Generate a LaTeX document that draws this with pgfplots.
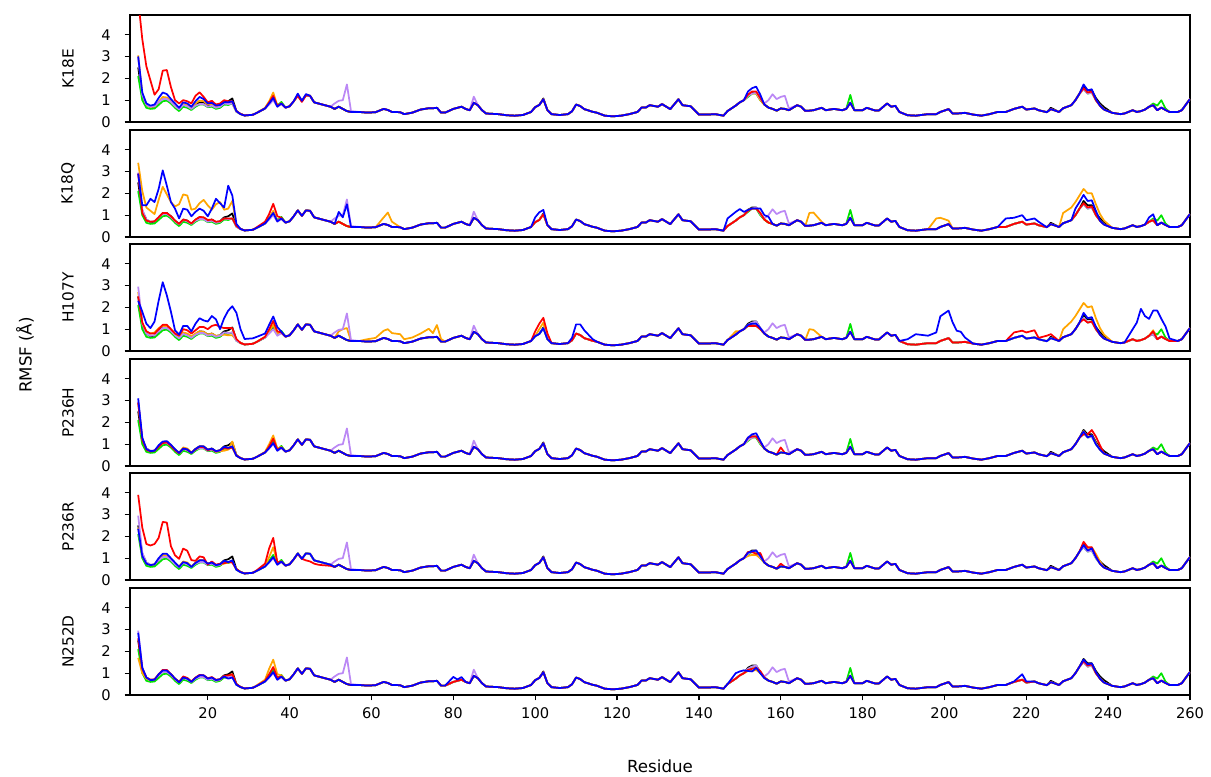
\documentclass[border=0pt]{standalone}
\usepackage{pgfplots}
\usepackage{pgfplotstable}
\pgfplotsset{compat=1.18}
\usepackage{fontspec}
\setmainfont{DejaVu Sans}

\definecolor{cK}{HTML}{000000}
\definecolor{cG}{HTML}{00E400}
\definecolor{cO}{HTML}{FFA500}
\definecolor{cP}{HTML}{BB88F5}
\definecolor{cR}{HTML}{FF0000}
\definecolor{cB}{HTML}{0000FF}

% columns: k g p common to all panels, then o r b for each of the six panels
\pgfplotstableread{
x  k g p  o1 r1 b1  o2 r2 b2  o3 r3 b3  o4 r4 b4  o5 r5 b5  o6 r6 b6
3  2.5 2.1 2.95  3.05 5.6 3.0  3.4 2.9 2.9  2.7 2.5 2.3  2.9 2.9 3.1  2.4 3.9 2.35  1.7 2.6 2.85
4  1.2 1.0 1.25  1.3 3.8 1.35  2.1 1.1 1.45  1.3 1.3 1.8  1.25 1.2 1.3  1.1 2.4 1.1  1.0 1.2 1.25
5  0.8 0.65 0.8  0.8 2.55 0.85  1.35 0.75 1.45  0.9 0.9 1.25  0.8 0.75 0.78  0.75 1.65 0.75  0.75 0.8 0.8
6  0.68 0.6 0.7  0.68 1.9 0.75  1.2 0.7 1.75  0.8 0.8 1.05  0.68 0.66 0.68  0.68 1.58 0.68  0.68 0.7 0.68
7  0.7 0.62 0.72  0.72 1.25 0.8  1.05 0.72 1.6  0.85 0.8 1.35  0.7 0.7 0.7  0.72 1.65 0.72  0.7 0.72 0.7
8  0.9 0.78 0.9  0.92 1.5 1.1  1.7 0.9 2.2  1.05 1.0 2.3  0.9 0.88 0.95  0.95 1.93 1.0  0.92 0.95 0.95
9  1.1 0.95 1.05  1.15 2.35 1.35  2.3 1.1 3.05  1.15 1.2 3.15  1.1 1.05 1.12  1.15 2.66 1.2  1.1 1.15 1.12
10  1.1 0.98 1.05  1.12 2.38 1.28  1.95 1.1 2.35  1.15 1.2 2.55  1.12 1.08 1.14  1.12 2.63 1.2  1.1 1.15 1.12
11  0.95 0.85 0.92  0.95 1.6 1.05  1.6 0.95 1.6  1.0 1.0 1.8  0.95 0.92 0.97  0.95 1.55 1.0  0.92 0.95 0.95
12  0.75 0.65 0.72  0.75 1.0 0.85  1.4 0.75 1.3  0.8 0.8 0.95  0.75 0.72 0.77  0.75 1.13 0.8  0.72 0.75 0.75
13  0.6 0.5 0.58  0.6 0.85 0.65  1.5 0.6 0.85  0.65 0.7 0.75  0.6 0.58 0.6  0.62 0.97 0.6  0.58 0.6 0.58
14  0.8 0.7 0.78  0.85 1.0 0.9  1.95 0.8 1.3  0.85 1.0 1.15  0.85 0.8 0.8  0.85 1.44 0.82  0.82 0.85 0.8
15  0.75 0.65 0.72  0.78 0.95 0.85  1.9 0.75 1.25  0.8 0.95 1.15  0.8 0.75 0.76  0.8 1.34 0.77  0.78 0.78 0.75
16  0.6 0.55 0.6  0.62 0.85 0.7  1.25 0.62 0.95  0.68 0.8 0.9  0.62 0.6 0.6  0.62 0.91 0.6  0.6 0.62 0.6
17  0.78 0.7 0.75  0.85 1.2 0.95  1.3 0.8 1.15  0.8 0.95 1.25  0.78 0.76 0.78  0.8 0.88 0.78  0.78 0.8 0.78
18  0.9 0.8 0.82  0.98 1.36 1.15  1.55 0.92 1.3  0.9 1.1 1.5  0.9 0.88 0.9  0.92 1.08 0.9  0.9 0.92 0.9
19  0.88 0.8 0.82  0.95 1.15 1.05  1.7 0.9 1.2  0.88 1.1 1.4  0.9 0.86 0.9  0.9 1.04 0.9  0.88 0.9 0.9
20  0.75 0.68 0.7  0.8 0.9 0.85  1.45 0.78 0.95  0.75 1.0 1.35  0.75 0.72 0.75  0.75 0.7 0.75  0.75 0.77 0.75
21  0.8 0.7 0.75  0.82 0.97 0.88  1.25 0.8 1.3  0.8 1.15 1.6  0.8 0.78 0.8  0.8 0.85 0.8  0.8 0.82 0.8
22  0.68 0.6 0.65  0.7 0.8 0.75  1.5 0.7 1.75  0.7 1.2 1.45  0.65 0.66 0.68  0.68 0.7 0.68  0.66 0.7 0.68
23  0.72 0.65 0.7  0.72 0.85 0.78  1.6 0.72 1.55  0.72 1.1 1.0  0.68 0.72 0.72  0.7 0.75 0.72  0.7 0.72 0.72
24  0.9 0.8 0.85  0.88 1.0 0.9  1.25 0.85 1.35  0.75 1.05 1.5  0.7 0.82 0.88  0.75 0.77 0.88  0.85 0.88 0.85
25  0.95 0.78 0.82  0.85 0.95 0.9  1.3 0.85 2.35  0.72 1.05 1.85  0.75 0.8 0.83  0.8 0.82 0.82  0.85 0.9 0.75
26  1.08 0.85 0.85  0.9 0.95 0.95  1.65 0.85 1.9  0.72 1.05 2.05  1.12 0.85 0.9  0.85 0.8 0.9  0.95 0.95 0.8
27  0.5 0.47 0.47  0.5 0.5 0.5  0.55 0.5 0.6  0.5 0.55 1.75  0.5 0.48 0.47  0.5 0.5 0.47  0.5 0.5 0.47
28  0.37 0.36 0.36  0.37 0.37 0.36  0.37 0.37 0.37  0.37 0.37 1.0  0.37 0.36 0.36  0.37 0.37 0.36  0.37 0.37 0.36
29  0.3 0.3 0.3  0.3 0.3 0.3  0.3 0.3 0.3  0.3 0.3 0.55  0.3 0.3 0.3  0.3 0.3 0.3  0.3 0.3 0.3
31  0.33 0.33 0.33  0.33 0.33 0.33  0.33 0.33 0.33  0.33 0.33 0.58  0.33 0.33 0.33  0.33 0.33 0.33  0.33 0.33 0.33
32  0.42 0.42 0.42  0.42 0.42 0.42  0.42 0.45 0.42  0.42 0.42 0.65  0.42 0.42 0.42  0.42 0.45 0.42  0.45 0.42 0.42
34  0.62 0.62 0.62  0.65 0.62 0.62  0.62 0.7 0.62  0.65 0.65 0.8  0.65 0.62 0.62  0.65 0.75 0.62  0.7 0.65 0.62
35  0.85 0.88 0.8  0.95 0.9 0.85  0.85 1.05 0.85  0.9 1.0 1.2  1.0 0.9 0.82  1.05 1.45 0.82  1.2 0.95 0.82
36  1.1 1.15 1.0  1.35 1.2 1.1  1.2 1.52 1.1  1.2 1.38 1.58  1.4 1.25 1.05  1.5 1.93 1.05  1.62 1.28 1.05
37  0.75 0.75 0.7  0.75 0.75 0.7  0.75 0.95 0.72  0.8 0.9 1.1  0.8 0.75 0.7  0.8 0.8 0.7  0.95 0.8 0.7
38  0.85 0.92 0.82  0.85 0.85 0.85  0.85 0.88 0.85  0.85 0.85 0.88  0.87 0.85 0.85  0.85 0.85 0.85  0.9 0.85 0.85
39  0.66 0.66 0.66  0.66 0.66 0.66  0.66 0.66 0.66  0.66 0.66 0.66  0.66 0.66 0.66  0.66 0.66 0.66  0.66 0.66 0.66
40  0.72 0.72 0.72  0.72 0.72 0.72  0.72 0.72 0.72  0.72 0.72 0.72  0.72 0.72 0.72  0.72 0.72 0.72  0.72 0.72 0.72
41  0.95 0.95 0.95  0.95 0.95 0.95  0.95 0.95 0.95  0.95 0.95 0.95  0.95 0.95 0.95  0.95 0.95 0.95  0.95 0.95 0.95
42  1.22 1.22 1.22  1.2 1.2 1.3  1.22 1.22 1.22  1.22 1.22 1.22  1.22 1.22 1.22  1.22 1.2 1.22  1.22 1.22 1.22
43  0.97 0.97 0.97  0.97 0.92 0.97  0.97 0.97 0.97  0.97 0.97 0.97  0.97 0.97 0.97  0.97 0.97 0.97  0.97 0.97 0.97
44  1.22 1.22 1.22  1.22 1.22 1.28  1.22 1.22 1.22  1.22 1.22 1.22  1.22 1.22 1.22  1.22 0.9 1.22  1.22 1.22 1.22
45  1.2 1.2 1.2  1.2 1.2 1.2  1.2 1.2 1.2  1.2 1.2 1.2  1.2 1.2 1.2  1.2 0.85 1.2  1.2 1.2 1.2
46  0.9 0.9 0.9  0.9 0.9 0.9  0.9 0.9 0.9  0.9 0.9 0.9  0.9 0.9 0.9  0.9 0.75 0.9  0.9 0.9 0.9
47  0.85 0.85 0.85  0.85 0.85 0.85  0.85 0.85 0.85  0.85 0.85 0.85  0.85 0.85 0.85  0.85 0.7 0.85  0.85 0.85 0.85
48  0.8 0.8 0.8  0.8 0.8 0.8  0.8 0.8 0.8  0.8 0.8 0.8  0.8 0.8 0.8  0.8 0.68 0.8  0.8 0.8 0.8
50  0.7 0.7 0.7  0.7 0.7 0.7  0.7 0.7 0.7  0.7 0.7 0.7  0.7 0.7 0.7  0.7 0.65 0.7  0.7 0.7 0.7
51  0.6 0.6 0.85  0.6 0.6 0.6  0.6 0.6 0.6  0.6 0.6 0.6  0.6 0.6 0.6  0.6 0.6 0.6  0.6 0.6 0.6
52  0.7 0.7 0.97  0.7 0.7 0.7  0.7 0.7 1.15  0.9 0.7 0.7  0.7 0.7 0.7  0.7 0.7 0.7  0.7 0.7 0.7
53  0.6 0.6 1.0  0.6 0.6 0.6  0.6 0.6 0.9  1.0 0.6 0.6  0.6 0.6 0.6  0.6 0.6 0.6  0.6 0.6 0.6
54  0.5 0.5 1.72  0.5 0.5 0.5  0.5 0.5 1.5  1.05 0.5 0.5  0.5 0.5 0.5  0.5 0.5 0.5  0.5 0.5 0.5
55  0.46 0.46 0.5  0.46 0.46 0.46  0.46 0.46 0.46  0.46 0.46 0.46  0.46 0.46 0.46  0.46 0.46 0.46  0.46 0.46 0.46
57  0.46 0.46 0.46  0.46 0.46 0.46  0.46 0.46 0.46  0.46 0.46 0.46  0.46 0.46 0.46  0.46 0.46 0.46  0.46 0.46 0.46
59  0.43 0.43 0.43  0.43 0.43 0.43  0.43 0.43 0.43  0.54 0.43 0.43  0.43 0.43 0.43  0.43 0.43 0.43  0.43 0.43 0.43
61  0.45 0.45 0.45  0.45 0.45 0.45  0.45 0.45 0.45  0.6 0.45 0.45  0.45 0.45 0.45  0.45 0.45 0.45  0.45 0.45 0.45
63  0.6 0.6 0.6  0.6 0.6 0.6  0.9 0.6 0.6  0.93 0.6 0.6  0.6 0.6 0.6  0.6 0.6 0.6  0.6 0.6 0.6
64  0.55 0.55 0.55  0.55 0.55 0.55  1.12 0.55 0.55  1.0 0.55 0.55  0.55 0.55 0.55  0.55 0.55 0.55  0.55 0.55 0.55
65  0.46 0.46 0.46  0.46 0.46 0.46  0.7 0.46 0.46  0.82 0.46 0.46  0.46 0.46 0.46  0.46 0.46 0.46  0.46 0.46 0.46
67  0.45 0.45 0.45  0.45 0.45 0.45  0.45 0.45 0.45  0.77 0.45 0.45  0.45 0.45 0.45  0.45 0.45 0.45  0.45 0.45 0.45
68  0.36 0.36 0.36  0.36 0.36 0.36  0.36 0.36 0.36  0.54 0.36 0.36  0.36 0.36 0.36  0.36 0.36 0.36  0.36 0.36 0.36
70  0.43 0.43 0.43  0.43 0.43 0.43  0.43 0.43 0.43  0.62 0.43 0.43  0.43 0.43 0.43  0.43 0.43 0.43  0.43 0.43 0.43
72  0.57 0.57 0.57  0.57 0.57 0.57  0.57 0.57 0.57  0.8 0.57 0.57  0.57 0.57 0.57  0.57 0.57 0.57  0.57 0.57 0.57
74  0.63 0.63 0.63  0.63 0.63 0.63  0.63 0.63 0.63  1.02 0.63 0.63  0.63 0.63 0.63  0.63 0.63 0.63  0.63 0.63 0.63
75  0.63 0.63 0.63  0.63 0.63 0.63  0.63 0.63 0.63  0.82 0.63 0.63  0.63 0.63 0.63  0.63 0.63 0.63  0.63 0.63 0.63
76  0.65 0.65 0.65  0.65 0.65 0.65  0.65 0.65 0.65  1.19 0.65 0.65  0.65 0.65 0.65  0.65 0.65 0.65  0.65 0.65 0.65
77  0.43 0.43 0.43  0.43 0.43 0.43  0.43 0.43 0.43  0.55 0.43 0.43  0.43 0.43 0.43  0.43 0.43 0.43  0.43 0.43 0.43
78  0.43 0.43 0.43  0.43 0.43 0.43  0.43 0.43 0.43  0.43 0.43 0.43  0.43 0.43 0.43  0.43 0.43 0.43  0.43 0.43 0.43
80  0.6 0.6 0.6  0.6 0.6 0.6  0.6 0.6 0.6  0.6 0.6 0.6  0.6 0.6 0.6  0.6 0.6 0.6  0.6 0.6 0.83
81  0.65 0.65 0.65  0.65 0.65 0.65  0.65 0.65 0.65  0.65 0.65 0.65  0.65 0.65 0.65  0.65 0.65 0.65  0.65 0.65 0.71
82  0.7 0.7 0.7  0.7 0.7 0.7  0.7 0.7 0.7  0.7 0.7 0.7  0.7 0.7 0.7  0.7 0.7 0.7  0.7 0.7 0.82
83  0.6 0.6 0.6  0.6 0.6 0.6  0.6 0.6 0.6  0.6 0.6 0.6  0.6 0.6 0.6  0.6 0.6 0.6  0.6 0.6 0.6
84  0.54 0.54 0.54  0.54 0.54 0.54  0.54 0.54 0.54  0.54 0.54 0.54  0.54 0.54 0.54  0.54 0.54 0.54  0.54 0.54 0.54
85  0.88 0.88 1.16  0.88 0.88 0.88  0.88 0.88 0.88  0.88 0.88 0.88  0.88 0.88 0.88  0.88 0.88 0.88  0.88 0.88 0.88
86  0.77 0.77 0.77  0.77 0.77 0.77  0.77 0.77 0.77  0.77 0.77 0.77  0.77 0.77 0.77  0.77 0.77 0.77  0.77 0.77 0.77
87  0.54 0.54 0.54  0.54 0.54 0.54  0.54 0.54 0.54  0.54 0.54 0.54  0.54 0.54 0.54  0.54 0.54 0.54  0.54 0.54 0.54
88  0.39 0.39 0.39  0.39 0.39 0.39  0.39 0.39 0.39  0.39 0.39 0.39  0.39 0.39 0.39  0.39 0.39 0.39  0.39 0.39 0.39
91  0.36 0.36 0.36  0.36 0.36 0.36  0.36 0.36 0.36  0.36 0.36 0.36  0.36 0.36 0.36  0.36 0.36 0.36  0.36 0.36 0.36
93  0.31 0.31 0.31  0.31 0.31 0.31  0.31 0.31 0.31  0.31 0.31 0.31  0.31 0.31 0.31  0.31 0.31 0.31  0.31 0.31 0.31
95  0.29 0.29 0.29  0.29 0.29 0.29  0.29 0.29 0.29  0.29 0.29 0.29  0.29 0.29 0.29  0.29 0.29 0.29  0.29 0.29 0.29
97  0.32 0.32 0.32  0.32 0.32 0.32  0.32 0.32 0.32  0.32 0.32 0.32  0.32 0.32 0.32  0.32 0.32 0.32  0.32 0.32 0.32
99  0.46 0.46 0.46  0.46 0.46 0.46  0.46 0.46 0.46  0.46 0.46 0.46  0.46 0.46 0.46  0.46 0.46 0.46  0.46 0.46 0.46
100  0.68 0.68 0.68  0.68 0.68 0.68  0.68 0.68 0.9  0.68 0.9 0.68  0.68 0.68 0.68  0.68 0.68 0.68  0.68 0.68 0.68
101  0.78 0.78 0.78  0.78 0.78 0.78  0.78 0.78 1.13  1.0 1.25 0.78  0.78 0.78 0.78  0.78 0.78 0.78  0.78 0.78 0.78
102  1.08 1.04 1.04  1.04 1.04 1.04  1.04 1.04 1.24  1.3 1.52 1.04  1.04 1.04 1.04  1.04 1.04 1.04  1.04 1.04 1.04
103  0.54 0.54 0.54  0.54 0.54 0.54  0.54 0.54 0.54  0.54 0.8 0.54  0.54 0.54 0.54  0.54 0.54 0.54  0.54 0.54 0.54
104  0.36 0.36 0.36  0.36 0.36 0.36  0.36 0.36 0.36  0.36 0.36 0.36  0.36 0.36 0.36  0.36 0.36 0.36  0.36 0.36 0.36
106  0.32 0.32 0.32  0.32 0.32 0.32  0.32 0.32 0.32  0.32 0.32 0.32  0.32 0.32 0.32  0.32 0.32 0.32  0.32 0.32 0.32
108  0.36 0.36 0.36  0.36 0.36 0.36  0.36 0.36 0.36  0.36 0.36 0.36  0.36 0.36 0.36  0.36 0.36 0.36  0.36 0.36 0.36
109  0.49 0.49 0.49  0.49 0.49 0.49  0.49 0.49 0.49  0.49 0.49 0.6  0.49 0.49 0.49  0.49 0.49 0.49  0.49 0.49 0.49
110  0.8 0.8 0.8  0.8 0.8 0.8  0.8 0.8 0.8  0.8 0.8 1.22  0.8 0.8 0.8  0.8 0.8 0.8  0.8 0.8 0.8
111  0.73 0.73 0.73  0.73 0.73 0.73  0.73 0.73 0.73  0.73 0.73 1.22  0.73 0.73 0.73  0.73 0.73 0.73  0.73 0.73 0.73
112  0.59 0.59 0.59  0.59 0.59 0.59  0.59 0.59 0.59  0.59 0.59 0.95  0.59 0.59 0.59  0.59 0.59 0.59  0.59 0.59 0.59
114  0.47 0.47 0.47  0.47 0.47 0.47  0.47 0.47 0.47  0.47 0.47 0.55  0.47 0.47 0.47  0.47 0.47 0.47  0.47 0.47 0.47
115  0.43 0.43 0.43  0.43 0.43 0.43  0.43 0.43 0.43  0.43 0.43 0.43  0.43 0.43 0.43  0.43 0.43 0.43  0.43 0.43 0.43
117  0.29 0.29 0.29  0.29 0.29 0.29  0.29 0.29 0.29  0.29 0.29 0.29  0.29 0.29 0.29  0.29 0.29 0.29  0.29 0.29 0.29
119  0.26 0.26 0.26  0.26 0.26 0.26  0.26 0.26 0.26  0.26 0.26 0.26  0.26 0.26 0.26  0.26 0.26 0.26  0.26 0.26 0.26
121  0.29 0.29 0.29  0.29 0.29 0.29  0.29 0.29 0.29  0.29 0.29 0.29  0.29 0.29 0.29  0.29 0.29 0.29  0.29 0.29 0.29
123  0.36 0.36 0.36  0.36 0.36 0.36  0.36 0.36 0.36  0.36 0.36 0.36  0.36 0.36 0.36  0.36 0.36 0.36  0.36 0.36 0.36
125  0.46 0.46 0.46  0.46 0.46 0.46  0.46 0.46 0.46  0.46 0.46 0.46  0.46 0.46 0.46  0.46 0.46 0.46  0.46 0.46 0.46
126  0.66 0.66 0.66  0.66 0.66 0.66  0.66 0.66 0.66  0.66 0.66 0.66  0.66 0.66 0.66  0.66 0.66 0.66  0.66 0.66 0.66
127  0.66 0.66 0.66  0.66 0.66 0.66  0.66 0.66 0.66  0.66 0.66 0.66  0.66 0.66 0.66  0.66 0.66 0.66  0.66 0.66 0.66
128  0.77 0.77 0.77  0.77 0.77 0.77  0.77 0.77 0.77  0.77 0.77 0.77  0.77 0.77 0.77  0.77 0.77 0.77  0.77 0.77 0.77
130  0.7 0.7 0.7  0.7 0.7 0.7  0.7 0.7 0.7  0.7 0.7 0.7  0.7 0.7 0.7  0.7 0.7 0.7  0.7 0.7 0.7
131  0.82 0.82 0.82  0.82 0.82 0.82  0.82 0.82 0.82  0.82 0.82 0.82  0.82 0.82 0.82  0.82 0.82 0.82  0.82 0.82 0.82
133  0.59 0.59 0.59  0.59 0.59 0.59  0.59 0.59 0.59  0.59 0.59 0.59  0.59 0.59 0.59  0.59 0.59 0.59  0.59 0.59 0.59
135  1.04 1.04 1.04  1.04 1.04 1.04  1.04 1.04 1.04  1.04 1.04 1.04  1.04 1.04 1.04  1.04 1.04 1.04  1.04 1.04 1.04
136  0.77 0.77 0.77  0.77 0.77 0.77  0.77 0.77 0.77  0.77 0.77 0.77  0.77 0.77 0.77  0.77 0.77 0.77  0.77 0.77 0.77
138  0.72 0.72 0.72  0.72 0.72 0.72  0.72 0.72 0.72  0.72 0.72 0.72  0.72 0.72 0.72  0.72 0.72 0.72  0.72 0.72 0.72
140  0.34 0.34 0.34  0.34 0.34 0.34  0.34 0.34 0.34  0.34 0.34 0.34  0.34 0.34 0.34  0.34 0.34 0.34  0.34 0.34 0.34
142  0.34 0.34 0.34  0.34 0.34 0.34  0.34 0.34 0.34  0.34 0.34 0.34  0.34 0.34 0.34  0.34 0.34 0.34  0.34 0.34 0.34
144  0.36 0.36 0.36  0.36 0.36 0.36  0.36 0.36 0.36  0.36 0.36 0.36  0.36 0.36 0.36  0.36 0.36 0.36  0.36 0.36 0.36
146  0.29 0.29 0.29  0.29 0.29 0.29  0.29 0.29 0.29  0.29 0.29 0.29  0.29 0.29 0.29  0.29 0.29 0.29  0.29 0.29 0.29
147  0.5 0.5 0.5  0.5 0.5 0.5  0.5 0.5 0.85  0.5 0.5 0.5  0.5 0.5 0.5  0.5 0.5 0.5  0.5 0.5 0.5
149  0.75 0.75 0.75  0.75 0.75 0.75  0.75 0.75 1.15  0.9 0.75 0.75  0.75 0.75 0.75  0.75 0.75 0.75  0.75 0.75 1.0
150  0.9 0.9 0.9  0.9 0.9 0.9  0.9 0.9 1.28  0.9 0.9 0.9  0.9 0.9 0.9  0.9 0.9 0.9  0.9 0.9 1.08
151  1.0 1.0 1.0  1.0 1.0 1.0  1.0 1.0 1.15  1.0 1.0 1.0  1.0 1.0 1.0  1.0 1.0 1.0  1.0 1.0 1.13
152  1.25 1.15 1.2  1.25 1.25 1.4  1.25 1.2 1.24  1.2 1.15 1.2  1.2 1.3 1.3  1.1 1.28 1.25  1.1 1.15 1.1
153  1.35 1.3 1.3  1.3 1.4 1.55  1.3 1.3 1.31  1.2 1.15 1.25  1.3 1.35 1.45  1.15 1.28 1.31  1.1 1.2 1.08
154  1.35 1.3 1.35  1.3 1.4 1.62  1.3 1.3 1.31  1.15 1.15 1.25  1.35 1.35 1.5  1.15 1.2 1.35  1.15 1.25 1.24
155  1.05 1.0 1.05  1.0 1.1 1.25  1.1 1.1 1.31  1.0 1.0 1.05  1.05 1.1 1.15  1.0 1.24 1.1  1.0 1.1 1.0
156  0.8 0.8 0.85  0.8 0.8 0.8  0.8 0.8 1.0  0.8 0.8 0.8  0.8 0.8 0.8  0.8 0.8 0.8  0.8 0.8 0.77
157  0.66 0.66 1.0  0.66 0.66 0.66  0.66 0.66 0.93  0.66 0.66 0.66  0.66 0.66 0.66  0.66 0.66 0.66  0.66 0.66 0.66
158  0.6 0.6 1.27  0.6 0.6 0.6  0.6 0.6 0.6  0.6 0.6 0.6  0.6 0.6 0.6  0.6 0.6 0.6  0.6 0.6 0.6
159  0.52 0.52 1.05  0.52 0.52 0.52  0.52 0.52 0.52  0.52 0.52 0.52  0.52 0.52 0.52  0.52 0.52 0.52  0.52 0.52 0.52
160  0.62 0.62 1.15  0.62 0.62 0.62  0.62 0.62 0.62  0.62 0.62 0.62  0.62 0.85 0.62  0.62 0.75 0.62  0.62 0.62 0.62
161  0.6 0.6 1.2  0.6 0.6 0.6  0.6 0.6 0.6  0.6 0.6 0.6  0.6 0.6 0.6  0.6 0.6 0.6  0.6 0.6 0.6
162  0.54 0.54 0.62  0.54 0.54 0.54  0.54 0.54 0.54  0.54 0.54 0.54  0.54 0.54 0.54  0.54 0.54 0.54  0.54 0.54 0.54
164  0.77 0.77 0.77  0.77 0.77 0.77  0.77 0.77 0.77  0.77 0.77 0.77  0.77 0.77 0.77  0.77 0.77 0.77  0.77 0.77 0.77
165  0.7 0.7 0.7  0.7 0.7 0.7  0.7 0.7 0.7  0.7 0.7 0.7  0.7 0.7 0.7  0.7 0.7 0.7  0.7 0.7 0.7
166  0.51 0.51 0.51  0.51 0.51 0.51  0.51 0.51 0.51  0.51 0.51 0.51  0.51 0.51 0.51  0.51 0.51 0.51  0.51 0.51 0.51
167  0.52 0.52 0.52  0.52 0.52 0.52  1.1 0.52 0.52  1.0 0.52 0.52  0.52 0.52 0.52  0.52 0.52 0.52  0.52 0.52 0.52
168  0.54 0.54 0.54  0.54 0.54 0.54  1.12 0.54 0.54  0.97 0.54 0.54  0.54 0.54 0.54  0.54 0.54 0.54  0.54 0.54 0.54
170  0.65 0.65 0.65  0.65 0.65 0.65  0.7 0.65 0.65  0.65 0.65 0.65  0.65 0.65 0.65  0.65 0.65 0.65  0.65 0.65 0.65
171  0.54 0.54 0.54  0.54 0.54 0.54  0.54 0.54 0.54  0.54 0.54 0.54  0.54 0.54 0.54  0.54 0.54 0.54  0.54 0.54 0.54
173  0.6 0.6 0.6  0.6 0.6 0.6  0.6 0.6 0.6  0.6 0.6 0.6  0.6 0.6 0.6  0.6 0.6 0.6  0.6 0.6 0.6
175  0.54 0.54 0.54  0.54 0.54 0.54  0.54 0.54 0.54  0.54 0.54 0.54  0.54 0.54 0.54  0.54 0.54 0.54  0.54 0.54 0.54
176  0.6 0.6 0.6  0.6 0.6 0.6  0.6 0.6 0.6  0.6 0.6 0.6  0.6 0.6 0.6  0.6 0.6 0.6  0.6 0.6 0.6
177  0.88 1.24 0.88  0.88 0.88 0.88  0.88 0.88 0.88  0.88 0.88 0.88  0.88 0.88 0.88  0.88 0.88 0.88  0.88 0.88 0.88
178  0.54 0.54 0.54  0.54 0.54 0.54  0.54 0.54 0.54  0.54 0.54 0.54  0.54 0.54 0.54  0.54 0.54 0.54  0.54 0.54 0.54
180  0.54 0.54 0.54  0.54 0.54 0.54  0.54 0.54 0.54  0.54 0.54 0.54  0.54 0.54 0.54  0.54 0.54 0.54  0.54 0.54 0.54
181  0.65 0.65 0.65  0.65 0.65 0.65  0.65 0.65 0.65  0.65 0.65 0.65  0.65 0.65 0.65  0.65 0.65 0.65  0.65 0.65 0.65
183  0.53 0.53 0.53  0.53 0.53 0.53  0.53 0.53 0.53  0.53 0.53 0.53  0.53 0.53 0.53  0.53 0.53 0.53  0.53 0.53 0.53
184  0.53 0.53 0.53  0.53 0.53 0.53  0.53 0.53 0.53  0.53 0.53 0.53  0.53 0.53 0.53  0.53 0.53 0.53  0.53 0.53 0.53
186  0.85 0.85 0.85  0.85 0.85 0.85  0.85 0.85 0.85  0.85 0.85 0.85  0.85 0.85 0.85  0.85 0.85 0.85  0.85 0.85 0.85
187  0.7 0.7 0.7  0.7 0.7 0.7  0.7 0.7 0.7  0.7 0.7 0.7  0.7 0.7 0.7  0.7 0.7 0.7  0.7 0.7 0.7
188  0.74 0.74 0.74  0.74 0.74 0.74  0.74 0.74 0.74  0.74 0.74 0.74  0.74 0.74 0.74  0.74 0.74 0.74  0.74 0.74 0.74
189  0.46 0.46 0.46  0.46 0.46 0.46  0.46 0.46 0.46  0.46 0.46 0.46  0.46 0.46 0.46  0.46 0.46 0.46  0.46 0.46 0.46
191  0.31 0.31 0.31  0.31 0.31 0.31  0.31 0.31 0.31  0.31 0.31 0.54  0.31 0.31 0.31  0.31 0.31 0.31  0.31 0.31 0.31
193  0.29 0.29 0.29  0.29 0.29 0.29  0.29 0.29 0.29  0.29 0.29 0.77  0.29 0.29 0.29  0.29 0.29 0.29  0.29 0.29 0.29
196  0.36 0.36 0.36  0.36 0.36 0.36  0.36 0.36 0.36  0.36 0.36 0.7  0.36 0.36 0.36  0.36 0.36 0.36  0.36 0.36 0.36
198  0.36 0.36 0.36  0.36 0.36 0.36  0.85 0.36 0.36  0.36 0.36 0.85  0.36 0.36 0.36  0.36 0.36 0.36  0.36 0.36 0.36
199  0.46 0.46 0.46  0.46 0.46 0.46  0.88 0.46 0.46  0.46 0.46 1.59  0.46 0.46 0.46  0.46 0.46 0.46  0.46 0.46 0.46
201  0.59 0.59 0.59  0.59 0.59 0.59  0.75 0.59 0.59  0.59 0.59 1.85  0.59 0.59 0.59  0.59 0.59 0.59  0.59 0.59 0.59
202  0.39 0.39 0.39  0.39 0.39 0.39  0.39 0.39 0.39  0.39 0.39 1.31  0.39 0.39 0.39  0.39 0.39 0.39  0.39 0.39 0.39
203  0.39 0.39 0.39  0.39 0.39 0.39  0.39 0.39 0.39  0.39 0.39 0.93  0.39 0.39 0.39  0.39 0.39 0.39  0.39 0.39 0.39
204  0.4 0.4 0.4  0.4 0.4 0.4  0.4 0.4 0.4  0.4 0.4 0.88  0.4 0.4 0.4  0.4 0.4 0.4  0.4 0.4 0.4
205  0.42 0.42 0.42  0.42 0.42 0.42  0.42 0.42 0.42  0.42 0.42 0.62  0.42 0.42 0.42  0.42 0.42 0.42  0.42 0.42 0.42
207  0.34 0.34 0.34  0.34 0.34 0.34  0.34 0.34 0.34  0.34 0.34 0.34  0.34 0.34 0.34  0.34 0.34 0.34  0.34 0.34 0.34
209  0.29 0.29 0.29  0.29 0.29 0.29  0.29 0.29 0.29  0.29 0.29 0.29  0.29 0.29 0.29  0.29 0.29 0.29  0.29 0.29 0.29
211  0.36 0.36 0.36  0.36 0.36 0.36  0.36 0.36 0.36  0.36 0.36 0.36  0.36 0.36 0.36  0.36 0.36 0.36  0.36 0.36 0.36
213  0.46 0.46 0.46  0.46 0.46 0.46  0.46 0.46 0.46  0.46 0.46 0.46  0.46 0.46 0.46  0.46 0.46 0.46  0.46 0.46 0.46
215  0.46 0.46 0.46  0.46 0.46 0.46  0.46 0.46 0.85  0.46 0.46 0.46  0.46 0.46 0.46  0.46 0.46 0.46  0.46 0.46 0.46
217  0.6 0.6 0.6  0.6 0.6 0.6  0.6 0.6 0.88  0.6 0.85 0.6  0.6 0.6 0.6  0.6 0.6 0.6  0.6 0.6 0.62
219  0.7 0.7 0.7  0.7 0.7 0.7  0.7 0.7 1.0  0.7 0.93 0.7  0.7 0.7 0.7  0.7 0.7 0.7  0.7 0.7 0.95
220  0.57 0.57 0.57  0.57 0.57 0.57  0.57 0.57 0.77  0.57 0.85 0.57  0.57 0.57 0.57  0.57 0.57 0.57  0.57 0.57 0.62
222  0.62 0.62 0.62  0.62 0.62 0.62  0.62 0.62 0.85  0.62 0.95 0.62  0.62 0.62 0.62  0.62 0.62 0.62  0.62 0.62 0.62
223  0.54 0.54 0.54  0.54 0.54 0.54  0.54 0.54 0.7  0.54 0.6 0.54  0.54 0.54 0.54  0.54 0.54 0.54  0.54 0.54 0.54
225  0.45 0.45 0.45  0.45 0.45 0.45  0.45 0.45 0.45  0.45 0.7 0.45  0.45 0.45 0.45  0.45 0.45 0.45  0.45 0.45 0.45
226  0.65 0.59 0.59  0.59 0.59 0.59  0.59 0.59 0.59  0.59 0.77 0.59  0.59 0.59 0.59  0.59 0.59 0.59  0.59 0.59 0.59
228  0.46 0.46 0.46  0.46 0.46 0.46  0.46 0.46 0.46  0.46 0.46 0.46  0.46 0.46 0.46  0.46 0.46 0.46  0.46 0.46 0.46
229  0.63 0.63 0.63  0.63 0.63 0.63  1.1 0.63 0.63  1.0 0.63 0.63  0.63 0.63 0.63  0.63 0.63 0.63  0.63 0.63 0.63
231  0.77 0.77 0.77  0.77 0.77 0.77  1.35 0.77 0.77  1.35 0.77 0.77  0.77 0.77 0.77  0.77 0.77 0.77  0.77 0.77 0.77
232  1.0 1.0 1.0  1.0 1.0 1.0  1.6 1.0 1.3  1.6 1.0 1.0  1.0 1.0 1.0  1.0 1.0 1.0  1.0 1.0 1.0
233  1.3 1.3 1.3  1.3 1.3 1.3  1.9 1.3 1.6  1.9 1.3 1.3  1.3 1.3 1.3  1.3 1.3 1.3  1.3 1.3 1.3
234  1.65 1.5 1.5  1.5 1.55 1.72  2.2 1.55 1.93  2.2 1.45 1.75  1.6 1.45 1.58  1.6 1.75 1.6  1.5 1.55 1.62
235  1.45 1.3 1.3  1.35 1.35 1.45  2.0 1.35 1.65  2.0 1.3 1.5  1.35 1.45 1.31  1.4 1.5 1.35  1.3 1.35 1.4
236  1.45 1.35 1.35  1.4 1.4 1.5  2.0 1.4 1.68  2.05 1.35 1.55  1.4 1.65 1.4  1.5 1.5 1.45  1.4 1.4 1.45
237  1.1 1.0 1.0  1.0 1.0 1.05  1.5 1.0 1.2  1.5 1.0 1.1  1.05 1.35 1.0  1.2 1.1 1.05  1.0 1.0 1.05
238  0.85 0.75 0.75  0.75 0.75 0.75  1.05 0.75 0.75  1.05 0.75 0.75  0.75 0.95 0.75  0.85 0.75 0.75  0.75 0.75 0.75
239  0.68 0.57 0.57  0.57 0.57 0.57  0.75 0.57 0.57  0.75 0.57 0.57  0.57 0.57 0.57  0.57 0.57 0.57  0.57 0.57 0.57
241  0.42 0.42 0.42  0.42 0.42 0.42  0.42 0.42 0.42  0.42 0.42 0.42  0.42 0.42 0.42  0.42 0.42 0.42  0.42 0.42 0.42
243  0.36 0.36 0.36  0.36 0.36 0.36  0.36 0.36 0.36  0.36 0.36 0.36  0.36 0.36 0.36  0.36 0.36 0.36  0.36 0.36 0.36
244  0.39 0.39 0.39  0.39 0.39 0.39  0.39 0.39 0.39  0.39 0.39 0.39  0.39 0.39 0.39  0.39 0.39 0.39  0.39 0.39 0.39
246  0.54 0.54 0.54  0.54 0.54 0.54  0.54 0.54 0.54  0.54 0.54 1.0  0.54 0.54 0.54  0.54 0.54 0.54  0.54 0.54 0.54
247  0.46 0.46 0.46  0.46 0.46 0.46  0.46 0.46 0.46  0.46 0.46 1.3  0.46 0.46 0.46  0.46 0.46 0.46  0.46 0.46 0.46
248  0.5 0.5 0.5  0.5 0.5 0.5  0.5 0.5 0.5  0.5 0.5 1.93  0.5 0.5 0.5  0.5 0.5 0.5  0.5 0.5 0.5
249  0.57 0.57 0.57  0.57 0.57 0.57  0.57 0.57 0.57  0.57 0.57 1.6  0.57 0.57 0.57  0.57 0.57 0.57  0.57 0.57 0.57
250  0.7 0.7 0.7  0.7 0.7 0.7  0.7 0.7 0.9  0.7 0.7 1.47  0.7 0.7 0.7  0.7 0.7 0.7  0.7 0.7 0.7
251  0.77 0.85 0.77  0.77 0.77 0.77  0.77 0.77 1.04  0.95 0.9 1.85  0.77 0.77 0.77  0.77 0.77 0.77  0.77 0.77 0.77
252  0.54 0.75 0.54  0.54 0.54 0.54  0.54 0.54 0.54  0.54 0.54 1.85  0.54 0.54 0.54  0.54 0.54 0.54  0.54 0.54 0.54
253  0.66 1.0 0.66  0.66 0.66 0.66  0.66 0.66 0.66  0.66 0.66 1.47  0.66 0.66 0.66  0.66 0.66 0.66  0.66 0.66 0.66
254  0.55 0.62 0.55  0.55 0.55 0.55  0.55 0.55 0.55  0.55 0.55 1.13  0.55 0.55 0.55  0.55 0.55 0.55  0.55 0.55 0.55
255  0.46 0.46 0.46  0.46 0.46 0.46  0.46 0.46 0.46  0.46 0.46 0.57  0.46 0.46 0.46  0.46 0.46 0.46  0.46 0.46 0.46
257  0.46 0.46 0.46  0.46 0.46 0.46  0.46 0.46 0.46  0.46 0.46 0.46  0.46 0.46 0.46  0.46 0.46 0.46  0.46 0.46 0.46
258  0.54 0.54 0.54  0.54 0.54 0.54  0.54 0.54 0.54  0.54 0.54 0.54  0.54 0.54 0.54  0.54 0.54 0.54  0.54 0.54 0.54
259  0.8 0.8 0.8  0.8 0.8 0.8  0.8 0.8 0.8  0.8 0.8 0.8  0.8 0.8 0.8  0.8 0.8 0.8  0.8 0.8 0.8
260  1.05 1.05 1.05  1.05 1.05 1.05  1.05 1.05 1.05  1.05 1.05 1.05  1.05 1.05 1.05  1.05 1.05 1.05  1.05 1.05 1.05
}\rmsf

\pgfplotsset{
  panel/.style={
    scale only axis, width=795pt, height=80.25pt, anchor=south west,
    xmin=1, xmax=260, ymin=0, ymax=4.9,
    ytick={0,1,2,3,4}, xtick=\empty,
    axis line style={line width=1.4pt},
    tick style={black, line width=1pt},
    tick align=outside, ytick pos=left, xtick pos=left,
    major tick length=4pt,
    tick label style={font=\fontsize{11}{13}\selectfont},
    yticklabel style={xshift=-7pt},
    xticklabel style={yshift=-2pt},
    /pgf/number format/assume math mode=true,
    every axis y label/.style={at={(axis description cs:-0.0585,0.5)}, rotate=90, anchor=center, font=\fontsize{11.5}{13}\selectfont},
    every axis plot/.append style={line width=1.3pt, line join=round},
  }
}

\newcommand\panel[4]{%
\begin{axis}[panel, at={(97.5pt,#3)}, ylabel={#2}, #4]
\addplot[cK] table[y=k]{\rmsf};
\addplot[cG] table[y=g]{\rmsf};
\addplot[cO] table[y=o#1]{\rmsf};
\addplot[cP] table[y=p]{\rmsf};
\addplot[cR] table[y=r#1]{\rmsf};
\addplot[cB] table[y=b#1]{\rmsf};
\end{axis}}

\begin{document}
\begin{tikzpicture}
\path[use as bounding box] (0pt,0pt) rectangle (908.25pt,-582pt);
\panel{1}{K18E}{-91.5pt}{}
\panel{2}{K18Q}{-177.75pt}{}
\panel{3}{H107Y}{-263.25pt}{}
\panel{4}{P236H}{-349.5pt}{}
\panel{5}{P236R}{-435pt}{}
\panel{6}{N252D}{-521.25pt}{xtick={20,40,...,260}}
\node[rotate=90, font=\fontsize{12.5}{14}\selectfont] at (18.75pt,-266.25pt) {RMSF (Å)};
\node[font=\fontsize{12.5}{14}\selectfont] at (495pt,-574.5pt) {Residue};
\end{tikzpicture}
\end{document}
